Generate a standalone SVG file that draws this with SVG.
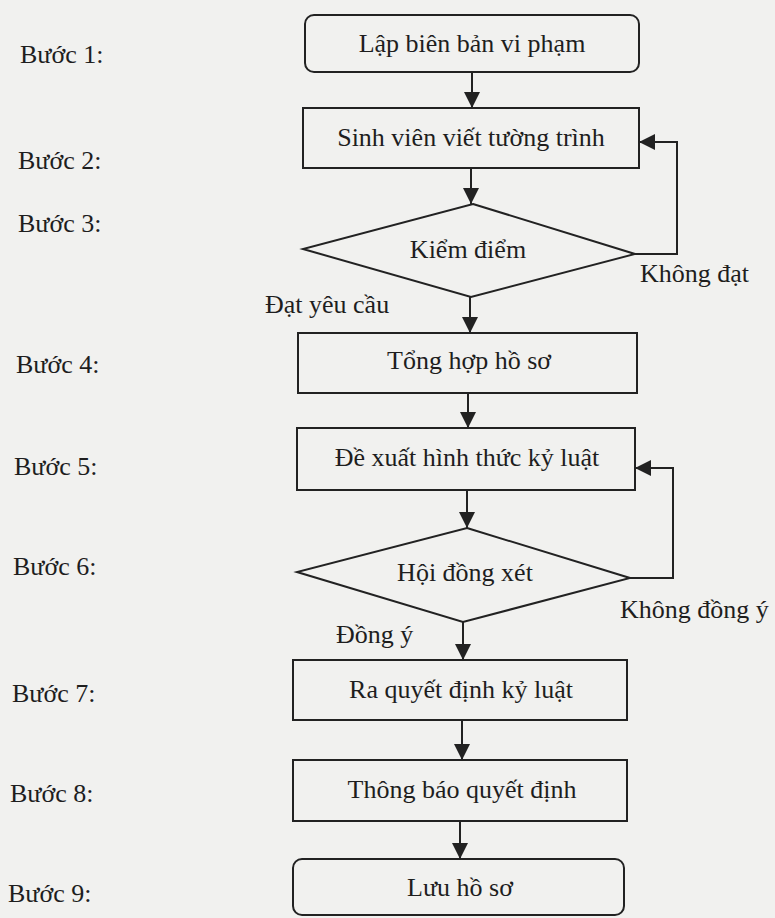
<svg xmlns="http://www.w3.org/2000/svg" width="775" height="918" viewBox="0 0 775 918">
<style>
  .bg { fill: #f1f1ef; }
  .shape { fill: none; stroke: #222; stroke-width: 2; }
  .conn { fill: none; stroke: #222; stroke-width: 2; }
  text { font-family: "Liberation Serif", "Times New Roman", serif; font-size: 26px; fill: #1e1e1e; }
  .c { text-anchor: middle; }
</style>
<defs>
  <marker id="arr" markerUnits="userSpaceOnUse" markerWidth="16" markerHeight="16" viewBox="0 0 16 16" refX="16" refY="8" orient="auto">
    <path d="M0,0 L16,8 L0,16 Z" fill="#222"/>
  </marker>
</defs>
<rect class="bg" x="0" y="0" width="775" height="918"/>

<g id="labels">
  <text x="20" y="63">Bước 1:</text>
  <text x="18" y="169">Bước 2:</text>
  <text x="18" y="232">Bước 3:</text>
  <text x="16" y="373">Bước 4:</text>
  <text x="14" y="475">Bước 5:</text>
  <text x="13" y="575">Bước 6:</text>
  <text x="12" y="702">Bước 7:</text>
  <text x="10" y="802">Bước 8:</text>
  <text x="8" y="902">Bước 9:</text>
</g>

<g id="connectors">
  <line class="conn" x1="472" y1="72" x2="472" y2="108" marker-end="url(#arr)"/>
  <line class="conn" x1="471" y1="168" x2="471" y2="204" marker-end="url(#arr)"/>
  <line class="conn" x1="470" y1="297" x2="470" y2="333" marker-end="url(#arr)"/>
  <line class="conn" x1="468" y1="393" x2="468" y2="428" marker-end="url(#arr)"/>
  <line class="conn" x1="467" y1="490" x2="467" y2="528" marker-end="url(#arr)"/>
  <line class="conn" x1="463" y1="622" x2="463" y2="660" marker-end="url(#arr)"/>
  <line class="conn" x1="462" y1="720" x2="462" y2="760" marker-end="url(#arr)"/>
  <line class="conn" x1="460" y1="821" x2="460" y2="859" marker-end="url(#arr)"/>
  <polyline class="conn" points="635,254 677,254 677,142 639,142" marker-end="url(#arr)"/>
  <polyline class="conn" points="630,578 673,578 673,468 635,468" marker-end="url(#arr)"/>
  <text x="640" y="282">Không đạt</text>
  <text x="265" y="313">Đạt yêu cầu</text>
  <text x="620" y="618">Không đồng ý</text>
  <text x="336" y="643">Đồng ý</text>
</g>

<g id="n1">
  <rect class="shape" x="305" y="15" width="334" height="57" rx="9"/>
  <text class="c" x="472" y="52">Lập biên bản vi phạm</text>
</g>
<g id="n2">
  <rect class="shape" x="303" y="108" width="336" height="60"/>
  <text class="c" x="471" y="146">Sinh viên viết tường trình</text>
</g>
<g id="n3">
  <polygon class="shape" points="473,204 635,254 471,297 303,249"/>
  <text class="c" x="468" y="258">Kiểm điểm</text>
</g>
<g id="n4">
  <rect class="shape" x="298" y="333" width="339" height="60"/>
  <text class="c" x="469" y="369">Tổng hợp hồ sơ</text>
</g>
<g id="n5">
  <rect class="shape" x="297" y="428" width="338" height="62"/>
  <text class="c" x="467" y="466">Đề xuất hình thức kỷ luật</text>
</g>
<g id="n6">
  <polygon class="shape" points="467,528 630,578 463,622 297,572"/>
  <text class="c" x="465" y="581">Hội đồng xét</text>
</g>
<g id="n7">
  <rect class="shape" x="293" y="660" width="334" height="60"/>
  <text class="c" x="461" y="698">Ra quyết định kỷ luật</text>
</g>
<g id="n8">
  <rect class="shape" x="293" y="760" width="334" height="61"/>
  <text class="c" x="462" y="798">Thông báo quyết định</text>
</g>
<g id="n9">
  <rect class="shape" x="293" y="859" width="331" height="56" rx="9"/>
  <text class="c" x="460" y="896">Lưu hồ sơ</text>
</g>
</svg>
